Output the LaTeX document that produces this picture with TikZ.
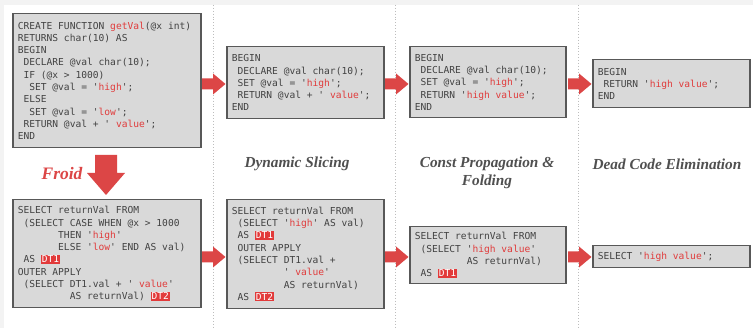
\documentclass[tikz,border=0pt]{standalone}
\usepackage{fontspec}
\setmainfont{Liberation Serif}
\newfontfamily\codefont{DejaVu Sans Mono}

\definecolor{pagegray}{HTML}{F3F3F3}
\definecolor{boxfill}{HTML}{D9D9D9}
\definecolor{boxedge}{HTML}{585858}
\definecolor{codegray}{HTML}{424242}
\definecolor{codered}{HTML}{E03C3C}
\definecolor{arrowred}{HTML}{DC4646}
\definecolor{dtred}{HTML}{E23A3A}
\definecolor{labelgray}{HTML}{505050}
\definecolor{sepgray}{HTML}{BDBDBD}

% red literal inside the code
\newcommand\hl[1]{\textcolor{codered}{#1}}
% derived-table alias on a red tag
\newcommand\dt[1]{{\setlength\fboxsep{1pt}\colorbox{dtred}{\textcolor{white}{#1}}}}
% one fixed-width blank of the code font
\newcommand\sk{\hspace*{0.602em}}

\tikzset{
  code/.style={draw=boxedge, fill=boxfill, line width=1.5pt, anchor=north west,
    inner xsep=5pt, inner ysep=2pt, align=left, text=codegray,
    font=\codefont\fontsize{9.6}{12.3}\selectfont,
    execute at begin node={\spaceskip=0.602em\relax}},
  stagelabel/.style={text=labelgray, align=center,
    font=\bfseries\itshape\fontsize{15.3}{18}\selectfont},
  separator/.style={sepgray, line width=0.8pt, dash pattern=on 0.9pt off 2pt},
  rarrow/.pic={\fill[arrowred] (0,-5.5) -- (11,-5.5) -- (11,-10.5) -- (23.5,0)
      -- (11,10.5) -- (11,5.5) -- (0,5.5) -- cycle;},
  darrow/.pic={\fill[arrowred] (-11,0) -- (11,0) -- (11,-18) -- (19,-18)
      -- (0,-40) -- (-19,-18) -- (-11,-18) -- cycle;}
}

\begin{document}
\begin{tikzpicture}[x=1pt,y=1pt]
  \useasboundingbox (0,0) rectangle (753,328);
  \fill[pagegray] (0,0) rectangle (753,328);
  \fill[white] (4,0) rectangle (753,323);

  % column separators
  \foreach \sx/\nm in {213/s1,395/s2,578/s3}{
    \coordinate (\nm top) at (\sx,323);
    \coordinate (\nm bot) at (\sx,0);
    \draw[separator] (\nm top) -- (\nm bot);
  }

  % original UDF
  \node[code, text width=178pt, minimum height=134pt] (udf) at (12,315) {%
CREATE FUNCTION \hl{getVal}(@x int)\\
RETURNS char(10) AS\\
BEGIN\\
\sk DECLARE @val char(10);\\
\sk IF (@x > 1000)\\
\sk\sk SET @val = '\hl{high}';\\
\sk ELSE\\
\sk\sk SET @val = '\hl{low}';\\
\sk RETURN @val + '\sk\hl{value}';\\
END};

  % Froid translation
  \node[code, text width=178pt, minimum height=108pt] (froidsql) at (12,129) {%
SELECT returnVal FROM\\
\sk(SELECT CASE WHEN @x > 1000\\
\sk\sk\sk\sk\sk\sk\sk THEN '\hl{high}'\\
\sk\sk\sk\sk\sk\sk\sk ELSE '\hl{low}' END AS val)\\
\sk AS \dt{DT1}\\
OUTER APPLY\\
\sk(SELECT DT1.val + '\sk\hl{value}'\\
\sk\sk\sk\sk\sk\sk\sk\sk\sk AS returnVal) \dt{DT2}};

  % dynamic slicing
  \node[code, text width=147pt, minimum height=72pt] (sliceudf) at (226,282) {%
BEGIN\\
\sk DECLARE @val char(10);\\
\sk SET @val = '\hl{high}';\\
\sk RETURN @val + '\sk\hl{value}';\\
END};
  \node[code, text width=147pt, minimum height=109pt] (slicesql) at (226,129) {%
SELECT returnVal FROM\\
\sk(SELECT '\hl{high}' AS val)\\
\sk AS \dt{DT1}\\
\sk OUTER APPLY\\
\sk(SELECT DT1.val +\\
\sk\sk\sk\sk\sk\sk\sk\sk\sk'\sk\hl{value}'\\
\sk\sk\sk\sk\sk\sk\sk\sk\sk AS returnVal)\\
\sk AS \dt{DT2}};

  % constant propagation and folding
  \node[code, text width=146pt, minimum height=71pt] (constudf) at (409,282) {%
BEGIN\\
\sk DECLARE @val char(10);\\
\sk SET @val = '\hl{high}';\\
\sk RETURN '\hl{high value}';\\
END};
  \node[code, text width=146pt, minimum height=57pt] (constsql) at (409,102) {%
SELECT returnVal FROM\\
\sk(SELECT '\hl{high value}'\\
\sk\sk\sk\sk\sk\sk\sk\sk\sk AS returnVal)\\
\sk AS \dt{DT1}};

  % dead code elimination
  \node[code, text width=147pt, minimum height=48pt] (deadudf) at (592,269) {%
BEGIN\\
\sk RETURN '\hl{high value}';\\
END};
  \node[code, text width=147pt, minimum height=22pt] (deadsql) at (592,83) {%
SELECT '\hl{high value}';};

  % stage titles
  \node[stagelabel] (lslice) at (297,164) {Dynamic Slicing};
  \node[stagelabel, font=\bfseries\itshape\fontsize{15.3}{18.5}\selectfont] (lconst) at (487,155) {Const Propagation \&\\Folding};
  \node[stagelabel] (ldead) at (667,164) {Dead Code Elimination};
  \node[text=arrowred, font=\bfseries\itshape\fontsize{17.5}{20}\selectfont] (lfroid) at (62,154) {Froid};

  % transformation arrows
  \pic at (106,173) {darrow};
  \foreach \ax in {202,385,568}{
    \pic at (\ax,244) {rarrow};
    \pic at (\ax,71) {rarrow};
  }
\end{tikzpicture}
\end{document}
